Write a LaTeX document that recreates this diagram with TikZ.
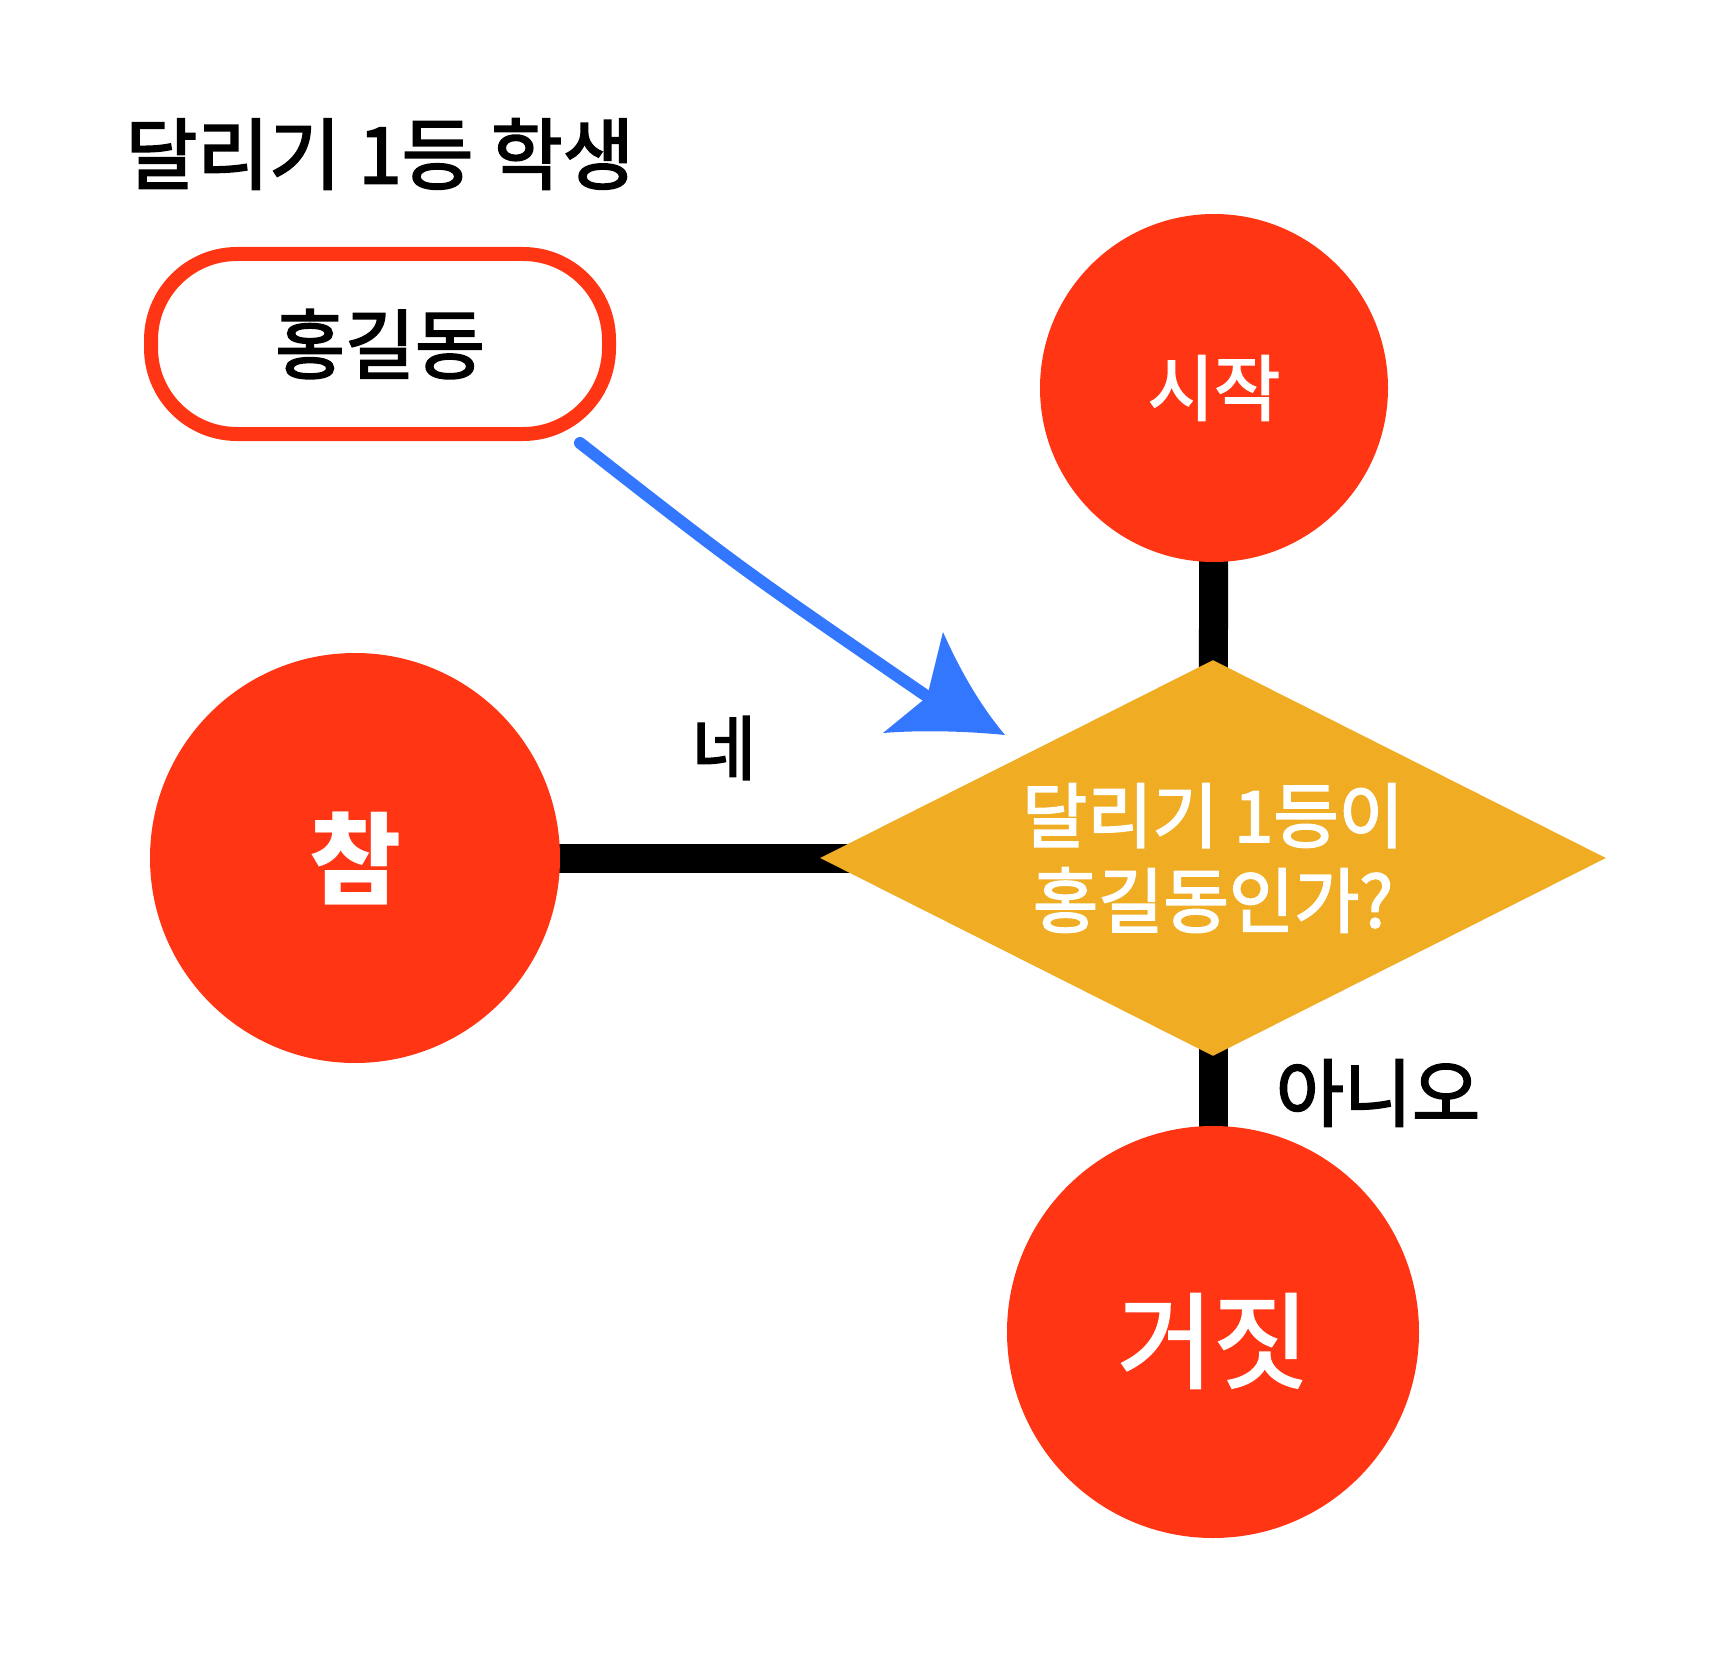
\documentclass[tikz,border=0pt]{standalone}
\usepackage{fontspec}
\setmainfont{Noto Sans CJK KR}
\newfontfamily\krmed[FakeBold=2.4]{Noto Sans CJK KR}
\usetikzlibrary{shapes.geometric}
\definecolor{cred}{RGB}{255,53,20}
\definecolor{corange}{RGB}{240,172,34}
\definecolor{cblue}{RGB}{51,119,255}
\pgfdeclarelayer{bg}
\pgfsetlayers{bg,main}
\begin{document}
\begin{tikzpicture}[x=0.5pt,y=-0.5pt,
  redcircle/.style={circle, fill=cred, inner sep=0pt, text=white},
  link/.style={line width=14.5pt, black},
  label/.style={text=black, inner sep=0pt},
  shaft/.style={cblue, line width=6pt, line cap=round}]
\useasboundingbox (0,0) rectangle (1714,1669);
\node[label, font=\krmed\fontsize{39}{42}\selectfont] (title) at (380,154) {달리기 1등 학생};
\node[draw=cred, line width=7pt, rounded corners=43pt, minimum width=229pt, minimum height=90pt, inner sep=0pt, font=\krmed\fontsize{38}{40}\selectfont] (hong) at (380,344) {홍길동};
\node[redcircle, minimum size=174pt, font=\krmed\fontsize{36}{40}\selectfont] (start) at (1214,388) {시작};
\node[redcircle, minimum size=205pt, font=\bfseries\fontsize{50}{56}\selectfont] (cham) at (355,858) {참};
\node[redcircle, minimum size=206pt] (geojit) at (1213,1332) {};
\node[inner sep=0pt, text=white, font=\krmed\fontsize{52}{56}\selectfont] (geojittext) at ([yshift=-4.5pt]geojit.center) {거짓};
\node[diamond, aspect=2, fill=corange, minimum width=393pt, minimum height=198pt, inner sep=0pt, text=white, align=center, font=\krmed\fontsize{35.5}{42.5}\selectfont] (dec) at (1213,858) {달리기 1등이\\홍길동인가?};
\begin{pgfonlayer}{bg}
\draw[link] (start.center) -- (dec.center);
\draw[link] (dec.center) -- (geojit.center);
\draw[link] (cham.center) -- (dec.center);
\end{pgfonlayer}
\node[label, font=\krmed\fontsize{35}{40}\selectfont] (ne) at (724,748) {네};
\node[label, font=\krmed\fontsize{37}{40}\selectfont] (anio) at (1378,1093) {아니오};
\coordinate (as) at (580,443);
\coordinate (ae) at (925,695);
\draw[shaft] (as) .. controls (740,568) .. (ae);
\fill[cblue] (927,697) -- (943,632) .. controls (963,677) and (984,710) .. (1005,735) .. controls (965,731) and (920,730) .. (883,733) -- cycle;
\end{tikzpicture}
\end{document}
